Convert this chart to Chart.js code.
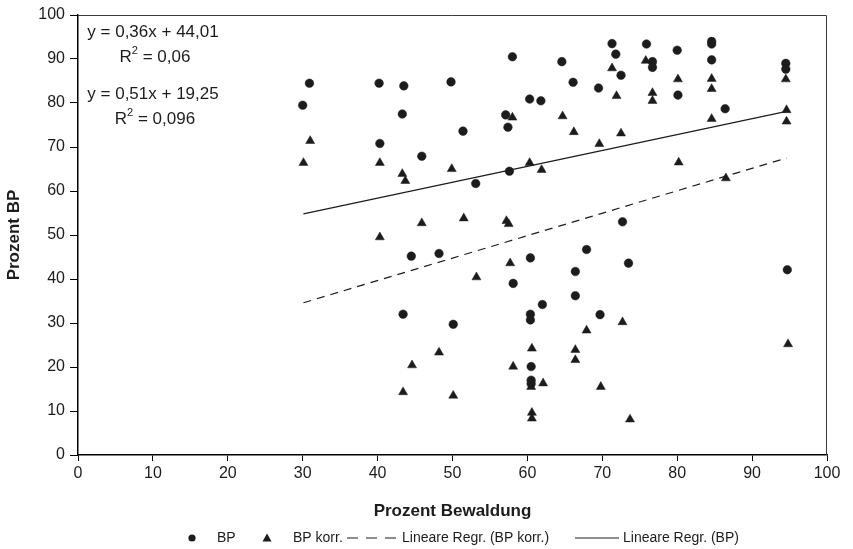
<!DOCTYPE html>
<html>
<head>
<meta charset="utf-8">
<script src="https://cdn.jsdelivr.net/npm/chart.js@4"></script>
<style>
  html, body { margin: 0; padding: 0; background: #fff; }
  canvas { display: block; }
</style>
</head>
<body>
<canvas id="chart" width="853" height="549"></canvas>
<script>
// Werte
const bpX = [30.0, 30.9, 40.2, 40.3, 43.5, 43.3, 43.4, 44.5, 45.9, 48.2, 49.8, 50.1, 51.4, 53.1, 57.1, 57.4, 57.6, 58.0, 58.1, 60.3, 60.4, 60.4, 60.4, 60.5, 60.5, 60.5, 61.8, 62.0, 64.6, 66.1, 66.4, 66.4, 67.9, 69.5, 69.7, 71.3, 71.8, 72.5, 72.7, 73.5, 75.9, 76.7, 76.7, 80.0, 80.1, 84.6, 84.6, 84.6, 86.4, 94.5, 94.5, 94.7];
const bpY = [79.5, 84.5, 84.5, 70.8, 83.9, 77.5, 32.0, 45.2, 67.9, 45.8, 84.8, 29.7, 73.6, 61.7, 77.3, 74.5, 64.5, 90.5, 39.0, 80.9, 44.8, 32.0, 30.7, 20.1, 17.0, 16.2, 80.5, 34.2, 89.4, 84.7, 41.7, 36.2, 46.7, 83.4, 31.9, 93.5, 91.1, 86.3, 53.0, 43.6, 93.4, 89.4, 88.1, 92.0, 81.8, 94.0, 93.4, 89.8, 78.7, 89.0, 87.7, 42.1];

const korrX = [30.1, 31.0, 40.3, 40.3, 43.3, 43.7, 43.4, 44.6, 45.9, 48.2, 49.9, 50.1, 51.5, 53.2, 57.2, 57.5, 57.7, 58.0, 58.1, 60.3, 60.6, 60.5, 60.6, 60.6, 61.9, 62.1, 64.7, 66.2, 66.4, 66.4, 67.9, 69.6, 69.8, 71.3, 71.9, 72.5, 72.7, 73.7, 75.8, 76.7, 76.7, 80.1, 80.2, 84.6, 84.6, 84.6, 86.5, 94.5, 94.6, 94.6, 94.8];
const korrY = [66.4, 71.4, 66.4, 49.5, 63.9, 62.3, 14.3, 20.4, 52.7, 23.3, 65.0, 13.5, 53.8, 40.4, 53.2, 52.5, 43.6, 76.7, 20.1, 66.4, 24.2, 15.5, 9.6, 8.3, 64.8, 16.3, 77.0, 73.4, 23.9, 21.6, 28.3, 70.7, 15.5, 87.9, 81.6, 73.1, 30.2, 8.1, 89.6, 82.3, 80.5, 85.4, 66.5, 85.5, 83.2, 76.4, 62.9, 85.4, 78.4, 75.8, 25.2];

// Regressionsgeraden (Endpunkte)
const regX = [30.1, 94.6];
const regBpY = [54.8, 78.1];
const regKorrY = [34.6, 67.5];

const xTickValues = [0, 10, 20, 30, 40, 50, 60, 70, 80, 90, 100];
const yTickValues = [0, 10, 20, 30, 40, 50, 60, 70, 80, 90, 100];

const equations = [
  ["y = 0,36x + 44,01", "R2 = 0,06"],
  ["y = 0,51x + 19,25", "R2 = 0,096"]
];

const FONT = "'Liberation Sans', Arial, sans-serif";
const INK = "#1c1c1c";

function toPoints(xs, ys) {
  return xs.map((x, i) => ({ x: x, y: ys[i] }));
}

// Rahmen, Gleichungen und Legende
const extras = {
  id: "extras",
  afterDraw(chart) {
    const ctx = chart.ctx;
    const a = chart.chartArea;
    ctx.save();
    ctx.strokeStyle = "#3a3a3a";
    ctx.lineWidth = 1;
    ctx.beginPath();
    ctx.moveTo(a.left, a.top + 0.5);
    ctx.lineTo(a.right - 0.5, a.top + 0.5);
    ctx.lineTo(a.right - 0.5, a.bottom);
    ctx.stroke();

    // Gleichungen
    ctx.fillStyle = INK;
    ctx.textAlign = "center";
    ctx.textBaseline = "middle";
    const eqY = [[32, 57], [94, 119]];
    equations.forEach((eq, i) => {
      ctx.font = "17px " + FONT;
      ctx.fillText(eq[0], 153, eqY[i][0]);
      // R² mit hochgestellter 2
      const base = "R";
      const rest = " = " + eq[1].split(" = ")[1];
      const wR = ctx.measureText(base).width;
      ctx.font = "11px " + FONT;
      const w2 = ctx.measureText("2").width;
      ctx.font = "17px " + FONT;
      const wRest = ctx.measureText(rest).width;
      const total = wR + w2 + wRest;
      let x0 = 155 - total / 2;
      ctx.textAlign = "left";
      ctx.fillText(base, x0, eqY[i][1]);
      ctx.font = "11px " + FONT;
      ctx.fillText("2", x0 + wR, eqY[i][1] - 6);
      ctx.font = "17px " + FONT;
      ctx.fillText(rest, x0 + wR + w2, eqY[i][1]);
      ctx.textAlign = "center";
    });

    // Legende
    const ly = 538;
    ctx.font = "14px " + FONT;
    ctx.textAlign = "left";
    ctx.fillStyle = INK;
    ctx.beginPath();
    ctx.arc(192, ly, 3.6, 0, Math.PI * 2);
    ctx.fill();
    ctx.fillText("BP", 217, ly);
    ctx.beginPath();
    ctx.moveTo(267, ly - 4.5);
    ctx.lineTo(271.5, ly + 3.5);
    ctx.lineTo(262.5, ly + 3.5);
    ctx.closePath();
    ctx.fill();
    ctx.fillText("BP korr.", 293, ly);
    ctx.strokeStyle = INK;
    ctx.lineWidth = 1.2;
    ctx.setLineDash([11, 8]);
    ctx.beginPath();
    ctx.moveTo(347, ly);
    ctx.lineTo(397, ly);
    ctx.stroke();
    ctx.setLineDash([]);
    ctx.fillText("Lineare Regr. (BP korr.)", 402, ly);
    ctx.beginPath();
    ctx.moveTo(575, ly);
    ctx.lineTo(619, ly);
    ctx.stroke();
    ctx.fillText("Lineare Regr. (BP)", 623, ly);
    ctx.restore();
  }
};

new Chart(document.getElementById("chart").getContext("2d"), {
  type: "scatter",
  data: {
    datasets: [
      {
        label: "Lineare Regr. (BP korr.)",
        data: toPoints(regX, regKorrY),
        showLine: true,
        borderColor: INK,
        borderWidth: 1.2,
        borderDash: [8, 6],
        pointRadius: 0
      },
      {
        label: "Lineare Regr. (BP)",
        data: toPoints(regX, regBpY),
        showLine: true,
        borderColor: INK,
        borderWidth: 1.2,
        pointRadius: 0
      },
      {
        label: "BP korr.",
        data: toPoints(korrX, korrY),
        pointStyle: "triangle",
        pointRadius: 5.2,
        backgroundColor: INK,
        borderColor: INK,
        borderWidth: 0.5
      },
      {
        label: "BP",
        data: toPoints(bpX, bpY),
        pointStyle: "circle",
        pointRadius: 4.3,
        backgroundColor: INK,
        borderColor: INK,
        borderWidth: 0.5
      }
    ]
  },
  options: {
    responsive: false,
    animation: false,
    events: [],
    layout: { padding: { top: 15, right: 26, bottom: 0, left: 0 } },
    plugins: {
      legend: { display: false },
      tooltip: { enabled: false }
    },
    scales: {
      x: {
        type: "linear",
        min: 0,
        max: 100,
        afterBuildTicks: s => { s.ticks = xTickValues.map(v => ({ value: v })); },
        afterFit: s => { s.height = 94; },
        grid: { drawOnChartArea: false, tickLength: 6, color: "#000", tickWidth: 1 },
        border: { color: "#000", width: 1.5 },
        ticks: { color: INK, font: { family: FONT, size: 16 }, padding: 3, maxRotation: 0 },
        title: {
          display: true,
          text: "Prozent Bewaldung",
          color: INK,
          font: { family: FONT, size: 17, weight: "bold" },
          padding: { top: 0, bottom: 27 }
        }
      },
      y: {
        type: "linear",
        min: 0,
        max: 100,
        afterBuildTicks: s => { s.ticks = yTickValues.map(v => ({ value: v })); },
        afterFit: s => { s.width = 78; },
        grid: { drawOnChartArea: false, tickLength: 8, color: "#000", tickWidth: 1 },
        border: { color: "#000", width: 1.5 },
        ticks: { color: INK, font: { family: FONT, size: 16 }, padding: 5 },
        title: {
          display: true,
          text: "Prozent BP",
          color: INK,
          font: { family: FONT, size: 17, weight: "bold" },
          padding: { top: 4, bottom: 0 }
        }
      }
    }
  },
  plugins: [extras]
});
</script>
</body>
</html>
